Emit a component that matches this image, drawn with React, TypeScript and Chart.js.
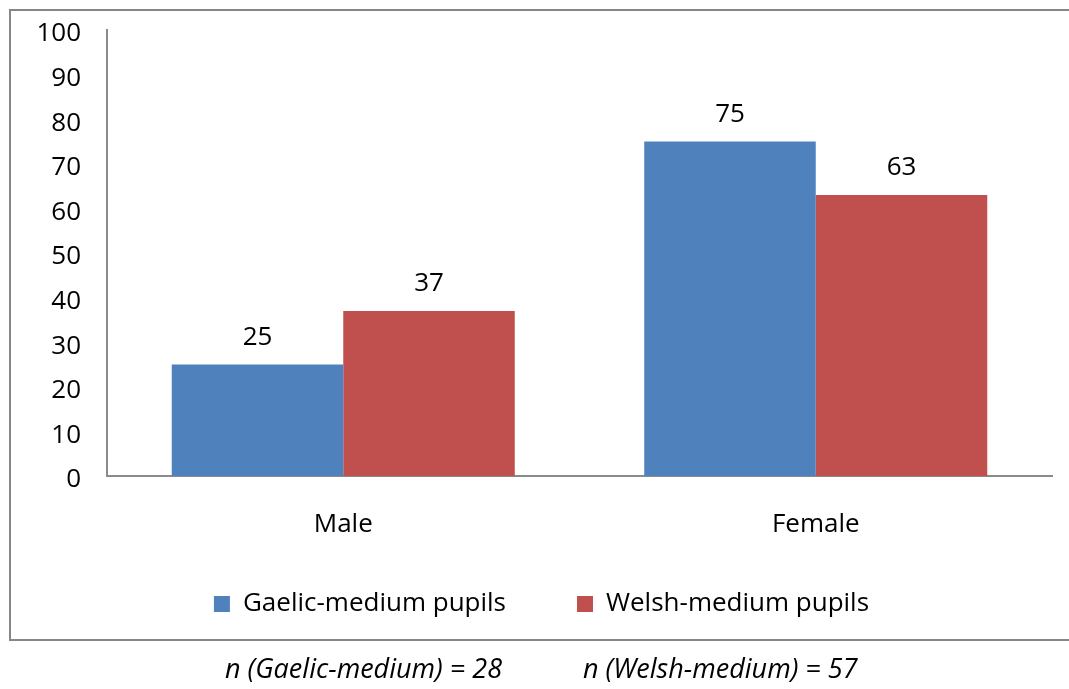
import React, { useEffect, useRef } from "react";
import { Chart, registerables } from "chart.js";

Chart.register(...registerables);

const categories = ["Male", "Female"];
const gaelicValues = [25, 75];
const welshValues = [37, 63];
const seriesNames = ["Gaelic-medium pupils", "Welsh-medium pupils"];
const seriesColors = ["#4F81BD", "#C0504D"];
const yMin = 0;
const yMax = 100;
const yStep = 10;
const footnotes = ["n (Gaelic-medium) = 28", "n (Welsh-medium) = 57"];

const FONT = "'Open Sans', sans-serif";
const FS = 26;

const dataLabelPlugin = {
  id: "dataLabels",
  afterDatasetsDraw(chart: any) {
    const ctx = chart.ctx;
    ctx.save();
    ctx.font = `${FS}px ${FONT}`;
    ctx.fillStyle = "#000";
    ctx.textAlign = "center";
    ctx.textBaseline = "middle";
    chart.data.datasets.forEach((ds: any, i: number) => {
      const meta = chart.getDatasetMeta(i);
      meta.data.forEach((bar: any, j: number) => {
        ctx.fillText(String(ds.data[j]), bar.x, bar.y - 27);
      });
    });
    ctx.restore();
  },
};

const legendShiftPlugin = {
  id: "legendShift",
  afterLayout(chart: any) {
    const l = chart.legend;
    if (!l) return;
    l.left += 10.5;
    l.right += 10.5;
    l.top -= 22;
    l.bottom -= 22;
  },
};

export default function App() {
  const ref = useRef<HTMLCanvasElement | null>(null);

  useEffect(() => {
    if (!ref.current) return;
    const chart = new Chart(ref.current, {
      type: "bar",
      data: {
        labels: categories,
        datasets: [
          {
            label: seriesNames[0],
            data: gaelicValues,
            backgroundColor: seriesColors[0],
            categoryPercentage: 0.726,
            barPercentage: 1,
          },
          {
            label: seriesNames[1],
            data: welshValues,
            backgroundColor: seriesColors[1],
            categoryPercentage: 0.726,
            barPercentage: 1,
          },
        ],
      },
      options: {
        responsive: false,
        animation: false,
        devicePixelRatio: 1,
        layout: { padding: { left: 10, right: 17, top: 30, bottom: 10 } },
        plugins: {
          legend: {
            position: "bottom",
            labels: {
              boxWidth: 16,
              boxHeight: 16,
              padding: 71,
              color: "#000",
              font: { family: FONT, size: FS },
            },
          },
          tooltip: { enabled: false },
        },
        scales: {
          x: {
            grid: { display: false, drawTicks: false },
            border: { display: true, color: "#8a8a8a", width: 2 },
            ticks: {
              color: "#000",
              padding: 33,
              font: { family: FONT, size: FS },
            },
            afterFit(scale: any) {
              scale.height = 66;
              scale.paddingLeft = 0;
              scale.paddingRight = 0;
            },
          },
          y: {
            min: yMin,
            max: yMax,
            grid: { display: false, drawTicks: false },
            border: { display: true, color: "#8a8a8a", width: 2 },
            ticks: {
              stepSize: yStep,
              color: "#000",
              padding: 26,
              labelOffset: 4,
              font: { family: FONT, size: FS },
            },
            afterFit(scale: any) {
              scale.width = 97;
              scale.paddingTop = 0;
              scale.paddingBottom = 0;
            },
          },
        },
      },
      plugins: [dataLabelPlugin, legendShiftPlugin],
    });
    return () => chart.destroy();
  }, []);

  return (
    <div
      style={{
        position: "fixed",
        left: 0,
        top: 0,
        width: 1069,
        height: 689,
        background: "#fff",
        overflow: "hidden",
      }}
    >
      <div
        style={{
          position: "absolute",
          left: 9,
          top: 9,
          width: 1080,
          height: 632,
          boxSizing: "border-box",
          border: "2px solid #868686",
        }}
      />
      <canvas
        ref={ref}
        width={1069}
        height={659}
        style={{ position: "absolute", left: 0, top: 0, width: 1069, height: 659 }}
      />
      {footnotes.map((t, i) => (
        <div
          key={i}
          style={{
            position: "absolute",
            left: i === 0 ? 225 : 583,
            top: 652,
            lineHeight: "32px",
            fontFamily: FONT,
            fontSize: 27,
            fontStyle: "italic",
            color: "#000",
            whiteSpace: "nowrap",
          }}
        >
          {t}
        </div>
      ))}
    </div>
  );
}
